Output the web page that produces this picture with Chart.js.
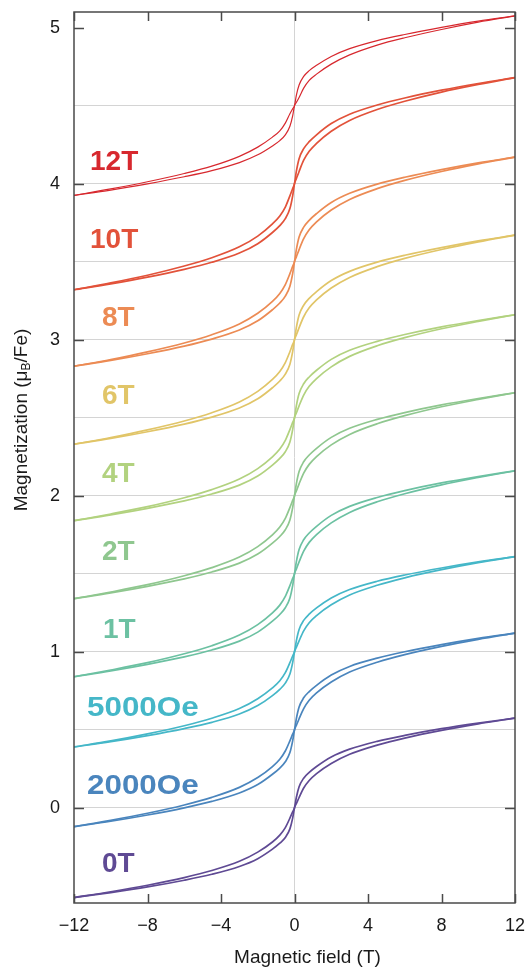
<!DOCTYPE html>
<html>
<head>
<meta charset="utf-8">
<script src="https://cdn.jsdelivr.net/npm/chart.js@4.4.1/dist/chart.umd.min.js"></script>
<style>
  html, body { margin: 0; padding: 0; background: #ffffff; }
  canvas { display: block; }
</style>
</head>
<body>
<canvas id="chart" width="530" height="970"></canvas>
<script>
// Field sweep points (T)
const fieldT = [-12, -10, -8, -6, -4.5, -3, -2, -1.2, -0.8, -0.5, -0.25, -0.1, 0, 0.1, 0.25, 0.5, 0.8, 1.2, 2, 3, 4.5, 6, 8, 10, 12];

// Magnetization (muB/Fe), each loop shifted by +0.5 for clarity.
// "dn" = sweep from +12 T down, "up" = sweep from -12 T up.
const m0T_dn     = [-0.575, -0.538, -0.496, -0.447, -0.402, -0.343, -0.284, -0.219, -0.175, -0.127, -0.066, -0.026, 0, 0.066, 0.135, 0.190, 0.227, 0.265, 0.326, 0.376, 0.426, 0.464, 0.507, 0.543, 0.575];
const m0T_up     = [-0.575, -0.543, -0.507, -0.464, -0.426, -0.376, -0.326, -0.265, -0.227, -0.190, -0.135, -0.066, 0, 0.026, 0.066, 0.127, 0.175, 0.219, 0.284, 0.343, 0.402, 0.447, 0.496, 0.538, 0.575];
const m2000Oe_dn = [-0.120, -0.080, -0.035, 0.018, 0.067, 0.131, 0.194, 0.264, 0.311, 0.364, 0.429, 0.472, 0.5, 0.571, 0.646, 0.705, 0.745, 0.785, 0.851, 0.906, 0.959, 1.000, 1.046, 1.086, 1.120];
const m2000Oe_up = [-0.120, -0.086, -0.046, 0.000, 0.041, 0.095, 0.149, 0.215, 0.255, 0.295, 0.354, 0.429, 0.5, 0.528, 0.571, 0.636, 0.689, 0.736, 0.806, 0.870, 0.933, 0.982, 1.035, 1.080, 1.120];
const m5000Oe_dn = [0.390, 0.429, 0.474, 0.526, 0.574, 0.636, 0.699, 0.768, 0.814, 0.866, 0.930, 0.973, 1.0, 1.070, 1.143, 1.201, 1.241, 1.281, 1.345, 1.399, 1.452, 1.492, 1.537, 1.576, 1.610];
const m5000Oe_up = [0.390, 0.424, 0.463, 0.508, 0.548, 0.601, 0.655, 0.719, 0.759, 0.799, 0.857, 0.930, 1.0, 1.028, 1.070, 1.134, 1.186, 1.232, 1.301, 1.364, 1.426, 1.474, 1.526, 1.571, 1.610];
const m1T_dn     = [0.840, 0.883, 0.930, 0.987, 1.039, 1.107, 1.174, 1.249, 1.299, 1.355, 1.424, 1.470, 1.5, 1.576, 1.655, 1.718, 1.761, 1.804, 1.874, 1.932, 1.989, 2.033, 2.082, 2.123, 2.160];
const m1T_up     = [0.840, 0.877, 0.919, 0.967, 1.011, 1.068, 1.126, 1.196, 1.239, 1.282, 1.345, 1.424, 1.5, 1.530, 1.576, 1.645, 1.701, 1.751, 1.826, 1.893, 1.961, 2.013, 2.070, 2.117, 2.160];
const m2T_dn     = [1.340, 1.383, 1.430, 1.487, 1.539, 1.607, 1.674, 1.749, 1.799, 1.855, 1.924, 1.970, 2.0, 2.076, 2.155, 2.218, 2.261, 2.304, 2.374, 2.432, 2.489, 2.533, 2.582, 2.623, 2.660];
const m2T_up     = [1.340, 1.377, 1.419, 1.467, 1.511, 1.568, 1.626, 1.696, 1.739, 1.782, 1.845, 1.924, 2.0, 2.030, 2.076, 2.145, 2.201, 2.251, 2.326, 2.393, 2.461, 2.513, 2.570, 2.617, 2.660];
const m4T_dn     = [1.840, 1.883, 1.930, 1.987, 2.039, 2.107, 2.174, 2.249, 2.299, 2.355, 2.424, 2.470, 2.5, 2.576, 2.655, 2.718, 2.761, 2.804, 2.874, 2.932, 2.989, 3.033, 3.082, 3.123, 3.160];
const m4T_up     = [1.840, 1.877, 1.919, 1.967, 2.011, 2.068, 2.126, 2.196, 2.239, 2.282, 2.345, 2.424, 2.5, 2.530, 2.576, 2.645, 2.701, 2.751, 2.826, 2.893, 2.961, 3.013, 3.070, 3.117, 3.160];
const m6T_dn     = [2.330, 2.373, 2.422, 2.479, 2.532, 2.601, 2.669, 2.745, 2.796, 2.853, 2.923, 2.970, 3.0, 3.077, 3.158, 3.221, 3.265, 3.308, 3.379, 3.438, 3.497, 3.541, 3.590, 3.633, 3.670];
const m6T_up     = [2.330, 2.367, 2.410, 2.459, 2.504, 2.562, 2.621, 2.692, 2.735, 2.779, 2.843, 2.923, 3.0, 3.030, 3.077, 3.147, 3.204, 3.255, 3.331, 3.399, 3.468, 3.521, 3.578, 3.627, 3.670];
const m8T_dn     = [2.830, 2.873, 2.922, 2.979, 3.032, 3.101, 3.169, 3.245, 3.296, 3.353, 3.423, 3.470, 3.5, 3.577, 3.658, 3.721, 3.765, 3.808, 3.879, 3.938, 3.997, 4.041, 4.090, 4.133, 4.170];
const m8T_up     = [2.830, 2.867, 2.910, 2.959, 3.004, 3.062, 3.121, 3.192, 3.235, 3.279, 3.343, 3.423, 3.5, 3.530, 3.577, 3.647, 3.704, 3.755, 3.831, 3.899, 3.968, 4.021, 4.078, 4.127, 4.170];
const m10T_dn    = [3.320, 3.364, 3.413, 3.472, 3.525, 3.595, 3.664, 3.742, 3.793, 3.850, 3.922, 3.969, 4.0, 4.078, 4.160, 4.224, 4.269, 4.313, 4.385, 4.445, 4.504, 4.549, 4.599, 4.642, 4.680];
const m10T_up    = [3.320, 3.358, 3.401, 3.451, 3.496, 3.555, 3.615, 3.687, 3.731, 3.776, 3.840, 3.922, 4.0, 4.031, 4.078, 4.150, 4.207, 4.258, 4.336, 4.405, 4.475, 4.528, 4.587, 4.636, 4.680];
const m12T_dn    = [3.925, 3.966, 4.012, 4.065, 4.112, 4.175, 4.234, 4.298, 4.338, 4.388, 4.448, 4.480, 4.5, 4.566, 4.632, 4.687, 4.724, 4.758, 4.815, 4.865, 4.917, 4.956, 5.001, 5.041, 5.075];
const m12T_up    = [3.925, 3.959, 3.999, 4.044, 4.083, 4.135, 4.185, 4.242, 4.276, 4.313, 4.368, 4.434, 4.5, 4.520, 4.552, 4.612, 4.662, 4.702, 4.766, 4.825, 4.888, 4.935, 4.988, 5.035, 5.075];

// Cooling-field labels and their loop baselines
const curveNames   = ['0T', '2000Oe', '5000Oe', '1T', '2T', '4T', '6T', '8T', '10T', '12T'];
const curveOffsets = [0, 0.5, 1.0, 1.5, 2.0, 2.5, 3.0, 3.5, 4.0, 4.5];
const branchesDn = [m0T_dn, m2000Oe_dn, m5000Oe_dn, m1T_dn, m2T_dn, m4T_dn, m6T_dn, m8T_dn, m10T_dn, m12T_dn];
const branchesUp = [m0T_up, m2000Oe_up, m5000Oe_up, m1T_up, m2T_up, m4T_up, m6T_up, m8T_up, m10T_up, m12T_up];

// Axis ticks
const xTickValues = [-12, -8, -4, 0, 4, 8, 12];
const yTickValues = [0, 1, 2, 3, 4, 5];

// Styling
const curveColors = ['#5f4a94', '#4a85bd', '#45b7c8', '#6cc1a2', '#8fc78f', '#b2d27f', '#e1c568', '#ec8b54', '#e2523a', '#d7282e'];
const labelLeft   = [28, 13, 13, 29, 28, 28, 28, 28, 16, 16];   // px from plot left edge
const FONT = '"Liberation Sans", Arial, Helvetica, sans-serif';

const datasets = [];
curveNames.forEach((name, i) => {
  [branchesDn[i], branchesUp[i]].forEach((branch, k) => {
    datasets.push({
      label: name + (k === 0 ? ' down' : ' up'),
      data: fieldT.map((h, j) => ({ x: h, y: branch[j] })),
      borderColor: curveColors[i],
      borderWidth: name === '12T' ? 1.2 : 1.7,
      pointRadius: 0,
      fill: false,
      cubicInterpolationMode: 'monotone'
    });
  });
});

// Frame with inward ticks, axis titles and curve labels
const decorations = {
  id: 'decorations',
  afterDraw(chart) {
    const { ctx, chartArea: a, scales: { x, y } } = chart;
    ctx.save();
    ctx.strokeStyle = '#4a4a4a';
    ctx.lineWidth = 1.5;
    ctx.strokeRect(a.left, a.top, a.right - a.left, a.bottom - a.top);
    ctx.beginPath();
    xTickValues.forEach(v => {
      const px = Math.round(x.getPixelForValue(v)) + 0.5;
      ctx.moveTo(px, a.bottom); ctx.lineTo(px, a.bottom - 9);
      ctx.moveTo(px, a.top);    ctx.lineTo(px, a.top + 9);
    });
    yTickValues.forEach(v => {
      const py = Math.round(y.getPixelForValue(v)) + 0.5;
      ctx.moveTo(a.left, py);  ctx.lineTo(a.left + 10, py);
      ctx.moveTo(a.right, py); ctx.lineTo(a.right - 10, py);
    });
    ctx.stroke();

    // curve labels
    ctx.font = 'bold 28px ' + FONT;
    ctx.textBaseline = 'middle';
    ctx.textAlign = 'left';
    curveNames.forEach((name, i) => {
      const lx = a.left + labelLeft[i];
      const ly = y.getPixelForValue(curveOffsets[i] - 0.36);
      ctx.fillStyle = curveColors[i];
      ctx.save();
      ctx.translate(lx, ly);
      if (name.endsWith('Oe')) ctx.scale(1.12, 1);
      ctx.fillText(name, 0, 0);
      ctx.restore();
    });

    // x axis title
    ctx.fillStyle = '#1a1a1a';
    ctx.font = '19px ' + FONT;
    ctx.textAlign = 'center';
    ctx.fillText('Magnetic field (T)', (a.left + a.right) / 2 + 13, 958);

    // y axis title with subscript B
    ctx.translate(22, 420);
    ctx.rotate(-Math.PI / 2);
    const p1 = 'Magnetization (\u03BC', p2 = 'B', p3 = '/Fe)';
    ctx.font = '19px ' + FONT;
    const w1 = ctx.measureText(p1).width, w3 = ctx.measureText(p3).width;
    ctx.font = '12px ' + FONT;
    const w2 = ctx.measureText(p2).width;
    let cx = -(w1 + w2 + w3) / 2;
    ctx.textAlign = 'left';
    ctx.font = '19px ' + FONT;
    ctx.fillText(p1, cx, 0); cx += w1;
    ctx.font = '12px ' + FONT;
    ctx.fillText(p2, cx, 5); cx += w2;
    ctx.font = '19px ' + FONT;
    ctx.fillText(p3, cx, 0);
    ctx.restore();
  }
};

new Chart(document.getElementById('chart'), {
  type: 'line',
  data: { datasets },
  plugins: [decorations],
  options: {
    responsive: false,
    animation: false,
    devicePixelRatio: 1,
    layout: { padding: { left: 0, right: 15, top: 12, bottom: 0 } },
    plugins: { legend: { display: false }, tooltip: { enabled: false } },
    scales: {
      x: {
        type: 'linear',
        min: -12, max: 12,
        border: { display: false },
        grid: {
          drawTicks: false,
          color: ctx => (ctx.tick && ctx.tick.value === 0 ? '#d4d4d4' : 'rgba(0,0,0,0)'),
          lineWidth: 1
        },
        ticks: {
          stepSize: 4,
          padding: 12,
          color: '#1a1a1a',
          font: { family: FONT, size: 18 },
          maxRotation: 0,
          callback: v => String(v).replace('-', '\u2212')
        },
        afterFit: s => { s.height = 67; s.paddingLeft = 0; s.paddingRight = 0; }
      },
      y: {
        type: 'linear',
        min: -0.61, max: 5.1,
        border: { display: false },
        grid: {
          drawTicks: false,
          color: ctx => {
            const v = ctx.tick ? ctx.tick.value : NaN;
            return curveOffsets.some(o => Math.abs(o - v) < 1e-6) ? '#d4d4d4' : 'rgba(0,0,0,0)';
          },
          lineWidth: 1
        },
        ticks: {
          stepSize: 0.5,
          includeBounds: false,
          padding: 14,
          color: '#1a1a1a',
          font: { family: FONT, size: 18 },
          autoSkip: false,
          callback: v => (Number.isInteger(v) ? String(v) : '')
        },
        afterFit: s => { s.width = 74; s.paddingTop = 0; s.paddingBottom = 0; }
      }
    }
  }
});
</script>
</body>
</html>
